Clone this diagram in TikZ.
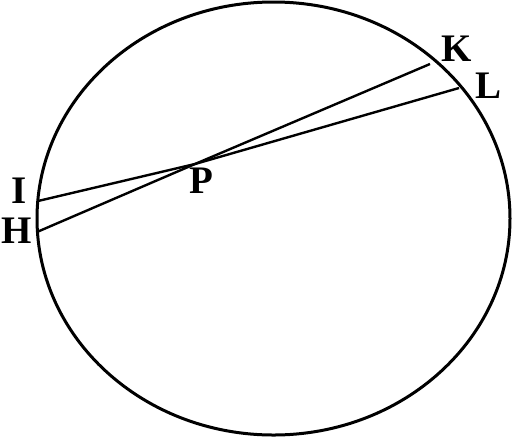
\documentclass[tikz,border=0pt]{standalone}
\usepackage{fontspec}
\setmainfont{Liberation Serif}
\tikzset{
  rim/.style={line width=3pt},
  chord/.style={line width=2.4pt, line join=round},
  lab/.style={inner sep=0pt, font=\fontsize{39}{39}\selectfont\bfseries}
}
\begin{document}
\begin{tikzpicture}[x=1pt,y=-1pt]
\useasboundingbox (0,0) rectangle (513,437);
\draw[rim] (273.5,218.5) ellipse [x radius=236.5, y radius=216.5];
\coordinate (K) at (430,64);
\coordinate (L) at (459,88);
\coordinate (I) at (38,201);
\coordinate (H) at (37,232);
\coordinate (X) at (195,164);
\draw[chord] (H) -- (X) -- (K);
\draw[chord] (I) -- (X) -- (L);
\node[lab] (lK) at (457,49) {K};
\node[lab] (lL) at (488,86) {L};
\node[lab] (lI) at (19,191) {I};
\node[lab] (lH) at (17,231) {H};
\node[lab] (lP) at (201,181) {P};
\end{tikzpicture}
\end{document}
